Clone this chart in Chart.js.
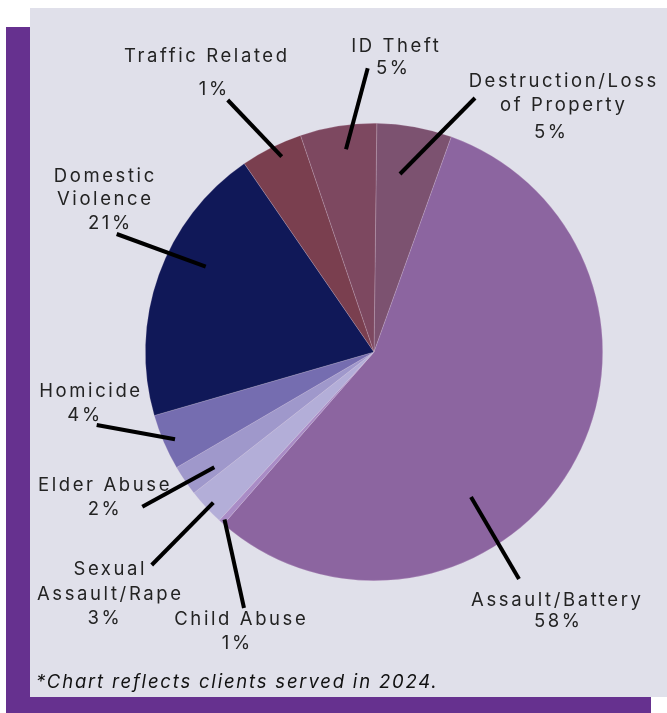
<!DOCTYPE html>
<html><head><meta charset="utf-8">
<script src="https://cdn.jsdelivr.net/npm/chart.js@4.4.1/dist/chart.umd.min.js"></script>
<style>
html,body{margin:0;padding:0;width:667px;height:713px;overflow:hidden;background:#ffffff;}
#frame{position:absolute;left:6px;top:27px;width:645px;height:686px;background:#66318f;}
#panel{position:absolute;left:30px;top:8px;width:637px;height:689px;background:#e0e0ea;}
#wrap{position:absolute;left:0;top:0;width:667px;height:713px;}
</style></head><body>
<div id="frame"></div><div id="panel"></div>
<div id="wrap"><canvas id="c" width="667" height="713"></canvas></div>
<script>
// ---- data (clockwise from 12 o'clock) ----
const categories = ['Destruction/Loss of Property','Assault/Battery','Child Abuse','Sexual Assault/Rape','Elder Abuse','Homicide','Domestic Violence','Traffic Related','ID Theft'];
const sliceShares = [5.3, 56.0, 0.4, 2.6, 2.15, 3.95, 19.9, 4.4, 5.4];
const percentLabels = ['5%','58%','1%','3%','2%','4%','21%','1%','5%'];
const labelNameLines = [['Destruction/Loss','of Property'],['Assault/Battery'],['Child Abuse'],['Sexual','Assault/Rape'],['Elder Abuse'],['Homicide'],['Domestic','Violence'],['Traffic Related'],['ID Theft']];
const footnote = '*Chart reflects clients served in 2024.';

// ---- styles / layout ----
const sliceColors = ['#7c5270','#8c65a0','#a98cc6','#b3aed8','#9f98cb','#756db0','#101858','#7a3f4f','#7d4860'];
// text line centres [x, y] per label line (name lines then percent line), and leader [x1,y1,x2,y2]
const labelLayout = [
  {pos:[[562.5,80.5],[562.5,104],[550,131.5]], leader:[475,98,400,174]},
  {pos:[[556,599],[557,620.5]], leader:[519,579,471,497]},
  {pos:[[240,618],[236,642.5]], leader:[244,608,224.5,519.5]},
  {pos:[[109,568.5],[109,593],[103.5,617.5]], leader:[151.7,565,213.3,502.7]},
  {pos:[[103.7,484],[103.7,508]], leader:[142.3,506.7,214.3,467.3]},
  {pos:[[89.7,390],[83.7,414.5]], leader:[96.7,425,175,439.3]},
  {pos:[[104,175],[104,198.5],[109,222]], leader:[116.7,234,205.7,266.7]},
  {pos:[[205.5,55],[213,88.7]], leader:[227.7,100,281.7,156.7]},
  {pos:[[395,45],[392,67.5]], leader:[367.7,68.3,346,149.3]}
];
const FONT_FAMILY = 'Inter, "Noto Sans", sans-serif';
const SPACING = 2.6;

function drawSpaced(ctx, text, cx, cy) {
  ctx.letterSpacing = SPACING + 'px';
  const w = ctx.measureText(text).width - SPACING;
  ctx.textAlign = 'left';
  ctx.textBaseline = 'alphabetic';
  ctx.fillText(text, cx - w / 2, cy + 6.7);
}

const labelPlugin = {
  id: 'labels',
  afterDraw(chart) {
    const ctx = chart.ctx;
    ctx.save();
    labelLayout.forEach((lay, i) => {
      const [x1, y1, x2, y2] = lay.leader;
      ctx.strokeStyle = '#000';
      ctx.lineWidth = 4;
      ctx.lineCap = 'butt';
      ctx.beginPath(); ctx.moveTo(x1, y1); ctx.lineTo(x2, y2); ctx.stroke();
      const lines = labelNameLines[i].concat([percentLabels[i]]);
      ctx.fillStyle = '#232323';
      ctx.font = '400 18.5px ' + FONT_FAMILY;
      lines.forEach((t, j) => drawSpaced(ctx, t, lay.pos[j][0], lay.pos[j][1]));
    });
    ctx.font = 'italic 400 18.5px ' + FONT_FAMILY;
    ctx.letterSpacing = '1.8px';
    ctx.fillStyle = '#111111';
    ctx.textAlign = 'left';
    ctx.textBaseline = 'alphabetic';
    ctx.fillText(footnote, 36, 688);
    ctx.restore();
  }
};

new Chart(document.getElementById('c'), {
  type: 'pie',
  data: {
    labels: categories,
    datasets: [{
      data: sliceShares,
      backgroundColor: sliceColors,
      borderColor: 'rgba(225,205,225,0.35)',
      borderWidth: 0.6
    }]
  },
  options: {
    responsive: false,
    animation: false,
    rotation: 0.7,
    layout: {padding: {left: 145, right: 64, top: 123, bottom: 132}},
    plugins: {legend: {display: false}, tooltip: {enabled: false}}
  },
  plugins: [labelPlugin]
});
</script>
</body></html>
